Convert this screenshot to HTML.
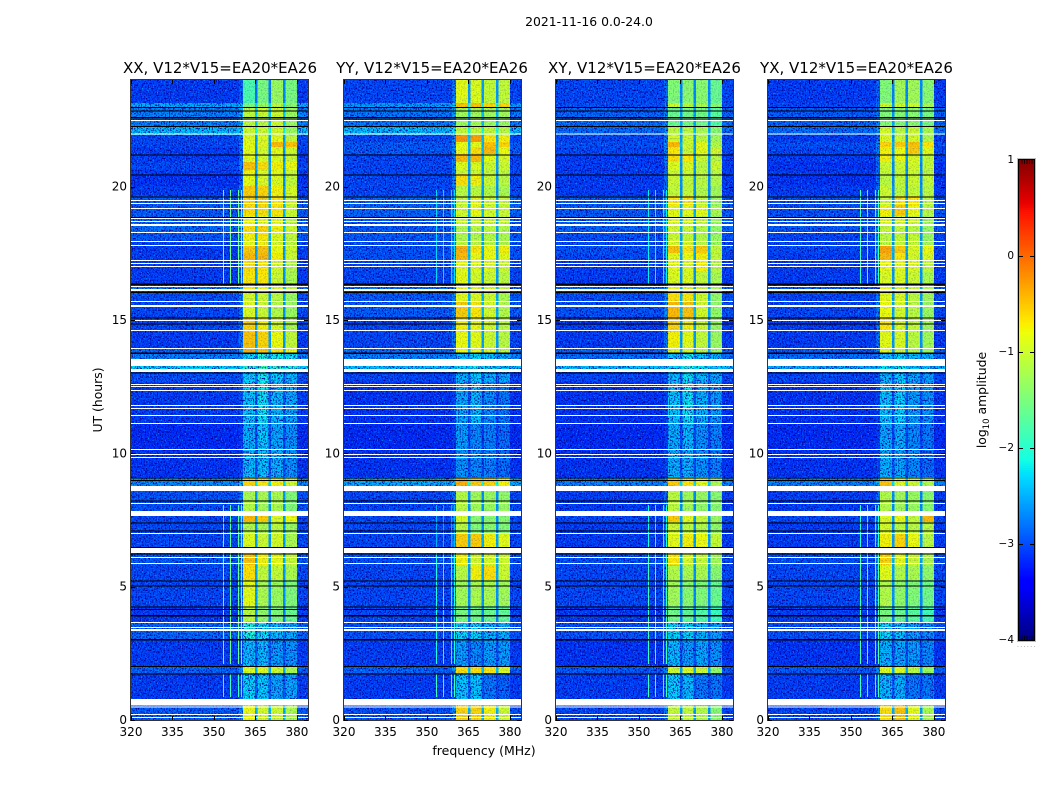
<!DOCTYPE html>
<html lang="en">
<head>
<meta charset="utf-8">
<title>2021-11-16 0.0-24.0</title>
<style>
html,body{margin:0;padding:0;background:#fff;}
svg{display:block;}
text{font-family:"DejaVu Sans","Liberation Sans",sans-serif;fill:#000;}
</style>
</head>
<body>
<svg id="figure" xmlns="http://www.w3.org/2000/svg" width="1050" height="800" viewBox="0 0 1050 800">
  <defs>
    <filter id="speckle" x="0" y="0" width="100%" height="100%" color-interpolation-filters="sRGB">
      <feTurbulence type="fractalNoise" baseFrequency="0.75 0.6" numOctaves="2" seed="3" result="n"/>
      <feColorMatrix in="n" type="matrix" values="0 0 0 0 0  0 0 0 0 0.7  0 0 0 0 1  3.5 0 0 0 -2" result="light"/>
      <feColorMatrix in="n" type="matrix" values="0 0 0 0 0  0 0 0 0 0  0 0 0 0 0.6  0 4 0 0 -1.9" result="dark"/>
      <feMerge result="m"><feMergeNode in="light"/><feMergeNode in="dark"/></feMerge>
      <feComposite in="m" in2="SourceAlpha" operator="in"/>
    </filter>
  </defs>
  <text x="589" y="26" font-size="12.4" text-anchor="middle">2021-11-16 0.0-24.0</text>
  <text x="220" y="73" font-size="15" text-anchor="middle">XX, V12*V15=EA20*EA26</text>
  <text x="432" y="73" font-size="15" text-anchor="middle">YY, V12*V15=EA20*EA26</text>
  <text x="644.5" y="73" font-size="15" text-anchor="middle">XY, V12*V15=EA20*EA26</text>
  <text x="856.5" y="73" font-size="15" text-anchor="middle">YX, V12*V15=EA20*EA26</text>
  <text transform="translate(102,400) rotate(-90)" font-size="12.4" text-anchor="middle">UT (hours)</text>
  <text x="484" y="755" font-size="12.5" text-anchor="middle">frequency (MHz)</text>
  <text transform="translate(986,400) rotate(-90)" font-size="12.4" text-anchor="middle">log<tspan font-size="8.5" dy="3">10</tspan><tspan dy="-3"> amplitude</tspan></text>
  <text x="1017" y="647" font-size="6" letter-spacing="1.4" style="fill:#777">......</text>
  <g id="panels"></g>
  <g id="colorbar"></g>
</svg>
<script>
// Time edges of the observed segments (UT hours, top to bottom)
var timeEdges = [24,23.14,22.95,22.65,22.28,21.94,21.68,21.49,21.23,20.93,20.63,20.48,20.03,19.65,19.31,18.9,18.56,18.3,18,17.78,17.51,17.21,16.8,16.35,16.05,15.71,15.11,14.55,13.95,13.76,13.28,13.16,12.68,11.14,10.13,9.11,8.59,8.25,7.65,7.43,7.01,6.26,5.81,5.25,4.28,3.68,3.04,2.03,1.76,0.53,0];

// Frequency edges of the four bright sub-bands (MHz)
var channelEdges = [[360.5,364.8],[365.7,369.8],[370.7,374.9],[375.8,380]];
var freqTicks = [320,335,350,365,380];
var timeTicks = [0,5,10,15,20];
var colorTicks = [-4,-3,-2,-1,0,1];

// log10 amplitude per segment: [background, band1, band2, band3, band4]
var xxLevels = [
[-3.05,-1.8,-1.5,-1.3,-1.5],[-2.5,-1.5,-1.3,-1.1,-1.4],[-2.7,-1.1,-1,-1,-1.3],[-2.7,-1.1,-1.1,-1,-1.3],[-2.4,-1,-1,-0.95,-1.3],
[-3,-0.9,-0.9,-0.85,-1.05],[-3,-0.85,-0.85,-0.45,-0.5],[-3.05,-0.85,-0.95,-0.85,-1],[-3.05,-0.85,-0.95,-0.9,-1],[-3,-0.5,-0.65,-0.75,-0.8],
[-3.05,-0.75,-0.9,-0.85,-1],[-3.1,-0.85,-0.9,-0.9,-1.05],[-3.05,-0.55,-0.6,-0.75,-0.95],[-2.9,-0.6,-0.6,-0.7,-1],[-2.9,-0.65,-0.65,-0.7,-1],
[-2.85,-0.8,-0.85,-0.85,-1.1],[-2.8,-0.65,-0.6,-0.75,-1],[-2.9,-0.75,-0.7,-0.9,-1.05],[-3,-0.85,-0.75,-0.95,-1.1],[-3.05,-0.55,-0.5,-0.8,-1],
[-3.05,-0.45,-0.45,-0.75,-1],[-3.05,-0.65,-0.7,-0.95,-1.15],[-3.05,-0.7,-0.7,-1,-1.2],[-2.75,-0.7,-0.8,-0.9,-1.1],[-2.95,-0.95,-1,-1.1,-1.3],
[-3,-0.9,-1,-1.15,-1.3],[-3,-0.6,-0.75,-0.95,-1.2],[-3.05,-0.5,-0.6,-0.8,-1.05],[-2.85,-0.4,-0.5,-0.7,-0.8],[-2.7,-2.25,-2.05,-2.15,-2.2],
[-2.3,-1.95,-1.85,-1.95,-2.05],[-2.95,-2.3,-2.15,-2.3,-2.4],[-3.05,-2.35,-2.2,-2.4,-2.5],[-3.15,-2.45,-2.3,-2.5,-2.6],[-3.1,-2.4,-2.35,-2.45,-2.6],
[-2.65,-0.6,-0.7,-0.75,-1],[-2.95,-1.2,-1.2,-1.2,-1.45],[-2.95,-1.15,-1.25,-1.2,-1.45],[-3,-0.45,-0.55,-0.9,-0.8],[-3,-1.15,-1.2,-1.1,-1.3],
[-3,-0.9,-1,-0.95,-1.2],[-2.9,-0.5,-0.75,-0.85,-1.05],[-3,-0.65,-1.05,-1.05,-1.2],[-3,-0.85,-1.2,-1.3,-1.45],[-3.05,-1.1,-1.35,-1.45,-1.6],
[-2.85,-2.05,-2.2,-2.4,-2.5],[-3.05,-2.4,-2.4,-2.55,-2.6],[-2.85,-0.9,-0.9,-1,-1.2],[-3.05,-2.25,-2.3,-2.5,-2.5],[-2.9,-0.8,-0.95,-1,-1.2]
];
var yyLevels = [
[-3,-0.85,-0.9,-1.05,-1.05],[-2.55,-0.5,-0.5,-0.6,-0.6],[-2.75,-1.25,-1.25,-1.25,-1.25],[-2.75,-1.3,-1.25,-1.3,-1.3],[-2.4,-1.05,-1.05,-1.05,-1.1],
[-3,-0.25,-0.3,-0.7,-0.75],[-2.9,-0.8,-0.85,-0.5,-0.6],[-2.9,-0.8,-0.65,-0.45,-0.8],[-3,-0.45,-0.45,-0.85,-0.9],[-3,-0.9,-0.9,-1,-1],
[-3,-1,-1,-1.05,-1.05],[-3,-0.65,-0.75,-1,-1.1],[-3,-1.1,-1.1,-1.15,-1.2],[-2.85,-1.05,-0.85,-1,-1.05],[-2.85,-0.95,-0.8,-0.95,-1],
[-2.9,-1,-1,-1,-1.05],[-2.9,-1.15,-1.1,-1.1,-1.15],[-2.9,-1.15,-1.15,-1.15,-1.2],[-2.95,-1.1,-1.1,-1.1,-1.15],[-2.95,-0.4,-0.7,-0.8,-0.75],
[-2.95,-0.45,-0.8,-0.8,-0.85],[-3,-0.85,-0.9,-0.9,-1],[-3,-0.85,-0.95,-1,-1.1],[-2.8,-0.8,-0.85,-0.95,-1.05],[-2.9,-0.85,-0.9,-1,-1.2],
[-2.9,-0.55,-0.7,-0.95,-1.15],[-3,-0.75,-0.8,-0.95,-1.1],[-3,-0.8,-0.85,-1,-1.1],[-2.8,-0.8,-0.85,-0.9,-1.1],[-2.7,-2.4,-2.25,-2.35,-2.45],
[-2.4,-2.25,-2.15,-2.25,-2.35],[-3,-2.45,-2.3,-2.45,-2.5],[-3.1,-2.5,-2.4,-2.65,-2.75],[-3.15,-2.55,-2.65,-2.7,-2.8],[-3.1,-2.6,-2.65,-2.7,-2.8],
[-2.5,-0.4,-0.55,-0.6,-0.75],[-3,-1.15,-1.25,-1.3,-1.35],[-3,-1.1,-1.25,-1.3,-1.3],[-3,-0.95,-1.4,-1.4,-1.4],[-3,-1.1,-1.45,-1.4,-1.45],
[-3,-0.55,-0.55,-0.75,-0.85],[-2.95,-0.75,-0.95,-0.95,-1],[-3,-1.1,-0.75,-0.65,-1],[-3,-1.25,-1.2,-1.2,-1.25],[-3,-1.5,-1.55,-1.6,-1.65],
[-2.95,-2.25,-2.25,-2.45,-2.45],[-3.05,-2.55,-2.65,-2.55,-2.55],[-2.85,-0.65,-0.65,-0.7,-0.9],[-3.05,-2.35,-2.35,-2.75,-2.85],[-2.95,-0.6,-0.6,-0.75,-1]
];
var xyLevels = [
[-3,-1.45,-1.4,-1.4,-1.6],[-2.95,-1,-1.1,-1.2,-1.4],[-2.85,-1.6,-1.55,-1.55,-1.7],[-2.8,-1.6,-1.55,-1.55,-1.75],[-2.8,-1.1,-1.1,-1.2,-1.4],
[-3,-0.95,-1,-1.1,-1.25],[-2.95,-0.45,-1,-0.85,-1.15],[-3,-0.7,-1,-0.85,-0.95],[-3.05,-0.65,-0.7,-1,-1.1],[-3.05,-0.9,-0.9,-1.1,-1],
[-3.05,-1,-1,-1.1,-1.1],[-3.05,-1,-1.05,-1.1,-1.15],[-3.05,-1.05,-1.05,-1.15,-1.25],[-2.9,-0.7,-0.7,-1.05,-1.3],[-2.9,-0.85,-0.85,-0.85,-1.2],
[-2.85,-0.9,-0.95,-1.05,-1.3],[-2.85,-0.95,-1,-1.15,-1.35],[-2.95,-1,-1.05,-1.15,-1.3],[-3,-0.95,-0.95,-1.1,-1.3],[-2.95,-0.5,-0.7,-0.55,-1.05],
[-3,-0.85,-0.8,-0.75,-1.05],[-3.05,-0.85,-0.9,-0.75,-1.1],[-3.05,-0.9,-0.9,-1.05,-1.2],[-2.85,-0.85,-0.85,-1,-1.25],[-2.95,-0.65,-0.7,-1,-1.35],
[-2.95,-0.45,-0.5,-0.95,-1.35],[-3.05,-0.6,-0.75,-1,-1.3],[-3.05,-0.75,-0.85,-1.05,-1.3],[-2.85,-0.9,-0.9,-1.1,-1.3],[-2.8,-2.35,-2.15,-2.35,-2.45],
[-2.4,-2.25,-2.05,-2.2,-2.35],[-3,-2.4,-2.2,-2.4,-2.5],[-3.1,-2.35,-2.2,-2.45,-2.55],[-3.15,-2.45,-2.4,-2.6,-2.7],[-3.1,-2.45,-2.45,-2.6,-2.7],
[-2.7,-0.55,-0.7,-0.85,-1.2],[-3.05,-1.1,-1.25,-1.3,-1.4],[-3.05,-1.1,-1.25,-1.35,-1.4],[-3,-0.55,-0.85,-1.05,-1.3],[-3.05,-1,-1.1,-1.15,-1.35],
[-3.05,-0.85,-0.75,-0.8,-1.05],[-2.95,-0.7,-0.95,-1.05,-1.25],[-3,-1.15,-1.2,-1.2,-1.4],[-3,-1.25,-1.4,-1.45,-1.6],[-3.05,-1.55,-1.65,-1.75,-1.9],
[-2.95,-2.25,-2.25,-2.45,-2.55],[-3.1,-2.4,-2.55,-2.5,-2.6],[-2.9,-1,-0.9,-1,-1.35],[-3.05,-2.3,-2.4,-2.75,-2.75],[-3,-1.05,-1.05,-1.15,-1.4]
];
var yxLevels = [
[-3.05,-1.45,-1.25,-1.25,-1.4],[-3,-1,-1,-1,-1.2],[-2.9,-1.45,-1.4,-1.4,-1.5],[-2.85,-1.45,-1.45,-1.4,-1.5],[-2.8,-0.95,-1.1,-1,-1.2],
[-3.05,-0.9,-1,-0.95,-1.15],[-2.95,-0.6,-0.55,-0.5,-0.7],[-3,-0.75,-0.8,-0.55,-0.85],[-3.05,-0.75,-0.8,-0.9,-1.05],[-3.1,-1,-1,-0.95,-1.05],
[-3.05,-1.05,-1.05,-1,-1.1],[-3.1,-1.1,-1.05,-1,-1.05],[-3.05,-1,-1.1,-1.05,-1.1],[-2.95,-1.05,-0.7,-0.7,-1.1],[-2.95,-0.75,-0.55,-0.8,-1.1],
[-2.9,-0.9,-0.95,-1,-1.25],[-2.9,-1.05,-1.05,-1.1,-1.3],[-3,-1.1,-1.05,-1.05,-1.3],[-3,-1.1,-1.05,-1.05,-1.25],[-3,-0.35,-0.55,-0.9,-0.8],
[-3.05,-0.45,-0.7,-0.95,-0.9],[-3.05,-0.8,-0.85,-0.9,-1.05],[-3.05,-0.9,-0.9,-1,-1.2],[-2.9,-0.85,-0.9,-1.05,-1.2],[-3,-0.85,-0.9,-1.1,-1.25],
[-3,-0.8,-0.95,-1.1,-1.3],[-3.05,-0.7,-0.9,-1.05,-1.25],[-3.05,-0.85,-0.9,-1.1,-1.25],[-2.9,-0.85,-1,-1.15,-1.3],[-2.8,-2.4,-2.25,-2.4,-2.45],
[-2.5,-2.2,-2.15,-2.35,-2.4],[-3,-2.4,-2.3,-2.5,-2.55],[-3.1,-2.35,-2.3,-2.55,-2.6],[-3.15,-2.5,-2.45,-2.65,-2.75],[-3.1,-2.45,-2.5,-2.65,-2.8],
[-2.7,-0.5,-0.85,-1,-1.15],[-3.05,-1.15,-1.25,-1.3,-1.4],[-3.05,-1.15,-1.25,-1.3,-1.4],[-3,-0.9,-0.8,-1.05,-0.45],[-3.05,-0.95,-1.1,-1.1,-1.1],
[-3.05,-0.75,-0.6,-0.8,-1.1],[-2.95,-0.6,-0.85,-1,-1.15],[-3,-0.85,-1.15,-1.2,-1.35],[-3,-1.15,-1.35,-1.45,-1.55],[-3.05,-1.5,-1.6,-1.7,-1.85],
[-2.95,-2.25,-2.35,-2.55,-2.65],[-3.1,-2.45,-2.5,-2.55,-2.65],[-2.9,-0.9,-0.9,-1.1,-1.3],[-3.05,-2.4,-2.45,-2.75,-2.75],[-3,-0.65,-0.5,-0.85,-1.2]
];

// Narrow interference lines
var rfiFrequencies = [353.4,355.9,358.8,359.9];
var rfiSpans = [[19.87,16.35],[8.06,6.45],[6.26,2.1],[1.72,0.86]];
var xxRfiLevels = [-1.6,-1.7,-1.6,-1.9];
var yyRfiLevels = [-2.3,-2.5,-2.1,-1.9];
var xyRfiLevels = [-2.2,-2.1,-1.9,-1.9];
var yxRfiLevels = [-1.9,-2,-1.8,-1.9];

// Flagged (blank) time ranges, UT hours [start, end]
var flaggedRanges = [[22.5,22.46],[22,21.96],[19.5,19.46],[19.39,19.35],[19.2,19.16],[18.83,18.79],[18.71,18.68],[18.6,18.53],[18.3,18.26],[17.96,17.93],[17.81,17.78],[17.25,17.21],[17.14,17.1],[17.03,16.99],[16.28,16.24],[16.16,16.09],[15.71,15.68],[15.56,15.49],[15,14.96],[14.63,14.59],[13.95,13.91],[13.54,13.28],[13.16,13.05],[12.6,12.56],[12.53,12.49],[12.38,12.34],[11.81,11.78],[11.7,11.66],[11.44,11.4],[11.14,11.1],[10.16,10.13],[9.98,9.94],[9.86,9.83],[8.78,8.59],[8.14,8.1],[7.84,7.65],[7.01,6.98],[6.45,6.26],[6.11,6.08],[5.89,5.85],[3.68,3.64],[3.49,3.45],[3.41,3.34],[0.79,0.54],[0.5,0.46],[0.23,0.19],[0.11,0.08]];

// Scan boundaries drawn as dark lines, UT hours [start, end]
var darkRanges = [[22.98,22.95],[22.86,22.83],[22.62,22.58],[22.55,22.51],[22.28,22.24],[21.21,21.17],[20.46,20.42],[19.64,19.6],[18.87,18.83],[16.36,16.29],[16.06,16.02],[15.1,15.06],[14.87,14.83],[13.79,13.72],[13.03,12.99],[9.1,9.06],[9,8.96],[8.24,8.2],[7.41,7.37],[7.11,7.07],[6.49,6.45],[6.24,6.2],[5.24,5.2],[5.05,5.01],[4.25,4.21],[4.17,4.13],[3.93,3.89],[3.03,2.98],[2.03,1.99],[1.75,1.71]];

var panelLefts = [131,344,556,768];
var panelLevels = [xxLevels,yyLevels,xyLevels,yxLevels];
var panelRfi = [xxRfiLevels,yyRfiLevels,xyRfiLevels,yxRfiLevels];
var panelKeys = ['xx','yy','xy','yx'];

var NS = 'http://www.w3.org/2000/svg';
var PANEL_W = 177, PANEL_TOP = 80, PANEL_BOTTOM = 720;
var F_MIN = 320, F_MAX = 384, T_MIN = 0, T_MAX = 24, V_MIN = -4, V_MAX = 1;
var CB_LEFT = 1019, CB_W = 15, CB_TOP = 160, CB_BOTTOM = 640;

function yScale(h){ return PANEL_BOTTOM - (h - T_MIN) / (T_MAX - T_MIN) * (PANEL_BOTTOM - PANEL_TOP); }
function xScale(left, f){ return left + (f - F_MIN) / (F_MAX - F_MIN) * PANEL_W; }
function cbScale(v){ return CB_BOTTOM - (v - V_MIN) / (V_MAX - V_MIN) * (CB_BOTTOM - CB_TOP); }

function ramp(t, pts){
  for (var i = 1; i < pts.length; i++) {
    if (t <= pts[i][0]) {
      var a = pts[i-1], b = pts[i];
      return a[1] + (b[1] - a[1]) * (t - a[0]) / (b[0] - a[0]);
    }
  }
  return pts[pts.length-1][1];
}
function jet(v){
  var t = Math.max(0, Math.min(1, (v - V_MIN) / (V_MAX - V_MIN)));
  var r = ramp(t, [[0,0],[0.35,0],[0.66,1],[0.89,1],[1,0.5]]);
  var g = ramp(t, [[0,0],[0.125,0],[0.375,1],[0.64,1],[0.91,0],[1,0]]);
  var b = ramp(t, [[0,0.5],[0.11,1],[0.34,1],[0.65,0],[1,0]]);
  return 'rgb(' + Math.round(r*255) + ',' + Math.round(g*255) + ',' + Math.round(b*255) + ')';
}
function make(tag, attrs, parent){
  var el = document.createElementNS(NS, tag);
  for (var k in attrs) el.setAttribute(k, attrs[k]);
  parent.appendChild(el);
  return el;
}
function cell(parent, left, f0, f1, h0, h1, v){
  var x0 = xScale(left, f0), x1 = xScale(left, f1), y0 = yScale(h0), y1 = yScale(h1);
  var el = make('rect', {x:x0, y:y0, width:x1-x0, height:y1-y0, fill:jet(v), 'shape-rendering':'crispEdges'}, parent);
  
  
  return el;
}
function noiseRect(parent, left, f0, f1, h0, h1){
  var x0 = xScale(left, f0), x1 = xScale(left, f1);
  var el = make('rect', {x:x0, y:yScale(h0), width:x1-x0, height:yScale(h1)-yScale(h0), fill:'#fff'}, parent);
  
  
}

var panelsRoot = document.getElementById('panels');

panelLefts.forEach(function(left, p){
  var levels = panelLevels[p];
  var g = make('g', {}, panelsRoot);
  
  

  var cells = make('g', {}, g);
  
  

  var noise = make('g', {filter:'url(#speckle)'}, g);
  
  

  var softNoise = make('g', {filter:'url(#speckle)', opacity:0.2}, g);
  
  

  levels.forEach(function(row, s){
    var h0 = timeEdges[s], h1 = timeEdges[s+1], bg = row[0];
    var shoulderStart = channelEdges[0][0] - 1.5;
    cell(cells, left, F_MIN, shoulderStart, h0, h1, bg);
    cell(cells, left, shoulderStart, channelEdges[0][0], h0, h1, bg + 0.12 * (row[1] - bg));
    channelEdges.forEach(function(edge, c){
      cell(cells, left, edge[0], edge[1], h0, h1, row[c+1]);
      if (c < channelEdges.length - 1) {
        var gapValue = bg + 0.2 * (row[c+1] - bg);
        cell(cells, left, edge[1], channelEdges[c+1][0], h0, h1, gapValue);
      }
    });
    cell(cells, left, channelEdges[3][1], F_MAX, h0, h1, bg);

    if (row[1] < -1.85) {
      noiseRect(noise, left, F_MIN, F_MAX, h0, h1);
    } else {
      noiseRect(noise, left, F_MIN, channelEdges[0][0], h0, h1);
      noiseRect(noise, left, channelEdges[3][1], F_MAX, h0, h1);
      noiseRect(softNoise, left, channelEdges[0][0], channelEdges[3][1], h0, h1);
    }
  });

  rfiFrequencies.forEach(function(f){
    rfiSpans.forEach(function(span, i){
      var line = make('rect', {x:Math.round(xScale(left, f)), y:yScale(span[0]), width:1, height:yScale(span[1])-yScale(span[0]), fill:jet(panelRfi[p][i]), 'shape-rendering':'crispEdges'}, g);
      
      
    });
  });

  flaggedRanges.forEach(function(r){
    var y0 = yScale(r[0]), y1 = yScale(r[1]);
    var w = make('rect', {x:left, y:y0, width:PANEL_W, height:Math.max(1, y1-y0), fill:'#fff', 'shape-rendering':'crispEdges'}, g);
    
    
  });

  darkRanges.forEach(function(r){
    var y0 = yScale(r[0]), y1 = yScale(r[1]);
    var d = make('rect', {x:left, y:y0, width:PANEL_W, height:Math.max(1, y1-y0), fill:'#000', 'shape-rendering':'crispEdges'}, g);
    
    
  });

  var frame = make('rect', {x:left-0.5, y:PANEL_TOP-0.5, width:PANEL_W+1, height:PANEL_BOTTOM-PANEL_TOP+1, fill:'none', stroke:'#333', 'stroke-width':1}, g);
  
  

  freqTicks.forEach(function(f){
    var x = Math.round(xScale(left, f)) + 0.5;
    var t1 = make('line', {x1:x, x2:x, y1:PANEL_BOTTOM, y2:PANEL_BOTTOM-4, stroke:'#000'}, g);
    
    
    var t2 = make('line', {x1:x, x2:x, y1:PANEL_TOP, y2:PANEL_TOP+4, stroke:'#000'}, g);
    
    
    var lab = make('text', {x:xScale(left, f), y:736, 'font-size':12, 'text-anchor':'middle'}, g);
    lab.textContent = String(f);
    
    
  });

  timeTicks.forEach(function(h){
    var y = Math.round(yScale(h)) + 0.5;
    var t1 = make('line', {x1:left, x2:left+4, y1:y, y2:y, stroke:'#000'}, g);
    
    
    var t2 = make('line', {x1:left+PANEL_W, x2:left+PANEL_W-4, y1:y, y2:y, stroke:'#000'}, g);
    
    
    var lab = make('text', {x:left-4, y:yScale(h)+4, 'font-size':12, 'text-anchor':'end'}, g);
    lab.textContent = String(h);
    
    
  });
});

// Colorbar
var cbRoot = document.getElementById('colorbar');
for (var py = CB_TOP; py < CB_BOTTOM; py += 2) {
  var stripValue = V_MAX - (py + 1 - CB_TOP) / (CB_BOTTOM - CB_TOP) * (V_MAX - V_MIN);
  var strip = make('rect', {x:CB_LEFT, y:py, width:CB_W, height:2, fill:jet(stripValue), 'shape-rendering':'crispEdges'}, cbRoot);
  
  
}
var cbOuter = make('rect', {x:CB_LEFT-1.5, y:CB_TOP-1.5, width:CB_W+3, height:CB_BOTTOM-CB_TOP+3, fill:'none', stroke:'#bbb'}, cbRoot);


var cbFrame = make('rect', {x:CB_LEFT-0.5, y:CB_TOP-0.5, width:CB_W+1, height:CB_BOTTOM-CB_TOP+1, fill:'none', stroke:'#000'}, cbRoot);


colorTicks.forEach(function(v){
  var y = Math.round(cbScale(v)) + 0.5;
  if (v > V_MIN && v < V_MAX) {
    var a = make('line', {x1:CB_LEFT, x2:CB_LEFT+4, y1:y, y2:y, stroke:'#000'}, cbRoot);
    
    
    var b = make('line', {x1:CB_LEFT+CB_W, x2:CB_LEFT+CB_W-4, y1:y, y2:y, stroke:'#000'}, cbRoot);
    
    
  }
  var lab = make('text', {x:CB_LEFT-5, y:cbScale(v)+3, 'font-size':10.5, 'text-anchor':'end'}, cbRoot);
  lab.textContent = (v < 0 ? '\u2212' + Math.abs(v) : String(v));
  
  
});
for (var mi = 1; mi <= 5; mi++) {
  var mx = CB_LEFT + mi * 2.5 + 0.5;
  var cbTopTick = make('line', {x1:mx, x2:mx, y1:CB_TOP, y2:CB_TOP+4, stroke:'#000', 'stroke-width':0.8}, cbRoot);
  
  
  var cbBottomTick = make('line', {x1:mx, x2:mx, y1:CB_BOTTOM, y2:CB_BOTTOM-4, stroke:'#000', 'stroke-width':0.8}, cbRoot);
  
  
}
</script>
</body>
</html>
